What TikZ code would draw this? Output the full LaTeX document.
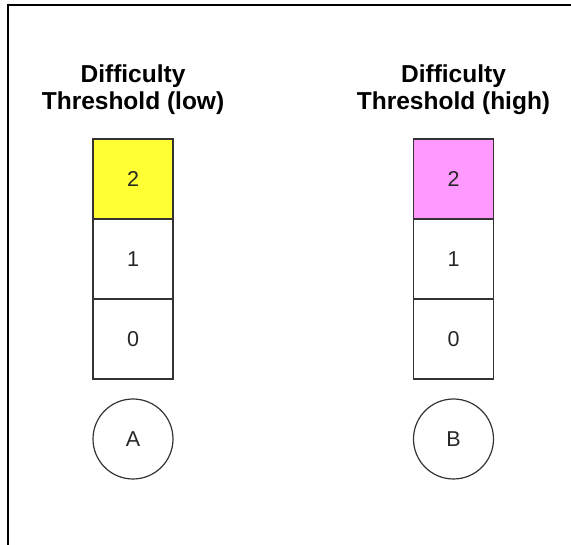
\documentclass[tikz,border=0pt]{standalone}
\usepackage{fontspec}
\setmainfont{Liberation Sans}
\usepackage{tikz}
\usetikzlibrary{positioning}
\definecolor{lowfill}{HTML}{FFFF33}
\definecolor{highfill}{HTML}{FF99FF}
\tikzset{
  cell/.style={draw=black!80, line width=1.2pt, minimum size=80pt, inner sep=0pt, outer sep=0pt,
    text=black!85, font=\fontsize{21.5}{24}\selectfont},
  player/.style={circle, draw=black!80, line width=1.2pt, minimum size=80pt, inner sep=0pt, outer sep=0pt,
    text=black!85, font=\fontsize{21.5}{24}\selectfont},
  heading/.style={align=center, inner sep=0pt, font=\bfseries\fontsize{24.5}{27}\selectfont}
}
\begin{document}
\begin{tikzpicture}[x=1pt,y=-1pt]
  \useasboundingbox (0,0) rectangle (571,545);
  \draw[line width=2pt] (8,545) -- (8,5) -- (571,5);
  % one column per threshold: heading, three levels, player
  \foreach \col/\x/\lvl/\fc/\who in {low/133/low/lowfill/A, high/453.5/high/highfill/B} {
    \node[heading] (\col title) at (\x,90) {Difficulty\\Threshold (\lvl)};
    \node[cell, fill=\fc] (\col2) at (\x,179) {2};
    \node[cell, below=0pt of \col2] (\col1) {1};
    \node[cell, below=0pt of \col1] (\col0) {0};
    \node[player, below=20pt of \col0] (\who) {\who};
  }
\end{tikzpicture}
\end{document}
